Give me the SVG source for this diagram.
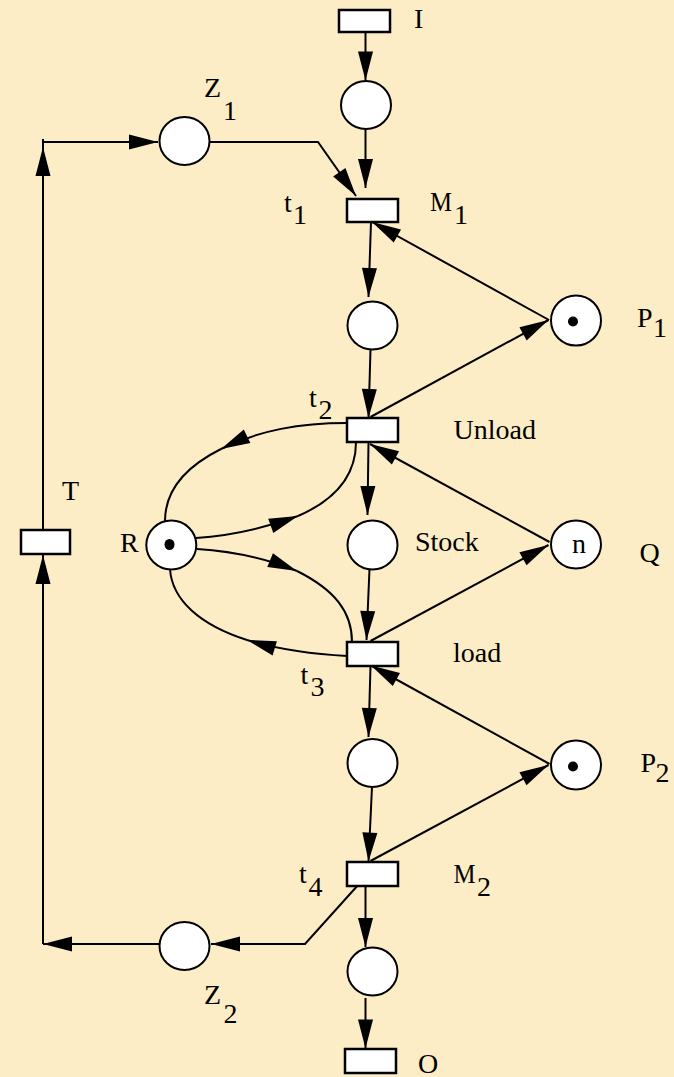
<svg xmlns="http://www.w3.org/2000/svg" width="674" height="1077" viewBox="0 0 674 1077">
<style>
.pl{fill:#fff;stroke:#000;stroke-width:2}
.tr{fill:#fff;stroke:#000;stroke-width:2.5}
.tk{fill:#000}
.c{fill:none;stroke:#000;stroke-width:2}
.ca{fill:none;stroke:#000;stroke-width:2;marker-end:url(#arr)}
text{font-size:28px;fill:#000}
</style>
<defs>
<marker id="arr" markerUnits="userSpaceOnUse" markerWidth="32" markerHeight="18" refX="29" refY="8" orient="auto" overflow="visible">
<path d="M0,0.5 L29,8 L0,15.5 z" fill="#000"/>
</marker>
</defs>
<rect x="0" y="0" width="674" height="1077" fill="#FDEDC6"/>
<g id="connectors">
<path class="ca" d="M365.5,32 L365.5,80.5"/>
<path class="ca" d="M365.5,129 L365.5,188"/>
<path class="ca" d="M210,142 L318,142 L356,196"/>
<path class="ca" d="M43,530 L43,147"/>
<path class="c" d="M43,139 L43,150"/>
<path class="ca" d="M43,142 L158,142"/>
<path class="ca" d="M371,222 L368.5,297"/>
<path class="ca" d="M549,320 L372,222"/>
<path class="ca" d="M370.5,349.5 L368.5,418"/>
<path class="ca" d="M370.5,417 L548.5,320"/>
<path class="ca" d="M347,423 C300,423 260,430 221,449"/>
<path class="c" d="M221,449 C185,467 165,490 165,521"/>
<path class="ca" d="M196,538 C230,536 265,528 298,516"/>
<path class="c" d="M298,516 C335,500 356,475 356,442"/>
<path class="ca" d="M368.5,442 L367.5,515"/>
<path class="ca" d="M549.5,542 L370,444"/>
<path class="ca" d="M369.5,569 L366.5,640"/>
<path class="ca" d="M370.5,641 L548.5,545"/>
<path class="ca" d="M197,549 C230,551 265,558 297,571"/>
<path class="c" d="M297,571 C335,590 352,612 352,642"/>
<path class="ca" d="M347,656 C310,654 280,650 247,640"/>
<path class="c" d="M247,640 C200,625 172,600 170,569"/>
<path class="ca" d="M370.5,666 L368.5,737"/>
<path class="ca" d="M549.5,764 L371,665.5"/>
<path class="ca" d="M372,787 L368.5,861.5"/>
<path class="ca" d="M370.5,861 L548.5,765"/>
<path class="ca" d="M359,884 L305,944 L211,944"/>
<path class="ca" d="M159,944 L43,944"/>
<path class="ca" d="M43,944 L43,555"/>
<path class="ca" d="M365.5,886 L365.5,947"/>
<path class="ca" d="M365.5,998 L365.5,1048.5"/>
</g>
<g font-family="'Liberation Serif', 'Times New Roman', serif">
<g id="I"><rect class="tr" x="339" y="10" width="51" height="22"/><text x="414" y="28">I</text></g>
<g id="p_in"><ellipse class="pl" cx="366" cy="105" rx="25" ry="24"/></g>
<g id="Z1"><ellipse class="pl" cx="184.5" cy="141" rx="25" ry="24"/><text x="204" y="97">Z</text><text x="223" y="120">1</text></g>
<g id="t1"><rect class="tr" x="347" y="199" width="51" height="23"/><text x="284" y="211.5">t</text><text x="293" y="223.5">1</text><text x="430" y="211" textLength="22" lengthAdjust="spacingAndGlyphs">M</text><text x="454" y="223.5">1</text></g>
<g id="p_m1"><ellipse class="pl" cx="372.5" cy="325.5" rx="25" ry="24"/></g>
<g id="P1"><ellipse class="pl" cx="576" cy="320.5" rx="25" ry="25"/><circle class="tk" cx="573" cy="321.5" r="5"/><text x="637" y="327">P</text><text x="653" y="337">1</text></g>
<g id="t2"><rect class="tr" x="347" y="418" width="51" height="24"/><text x="309" y="406.5">t</text><text x="318.5" y="418.5">2</text><text x="453.5" y="439">Unload</text></g>
<g id="T"><rect class="tr" x="21" y="530" width="49" height="24"/><text x="62" y="500">T</text></g>
<g id="R"><ellipse class="pl" cx="171.3" cy="545" rx="25" ry="24.5"/><ellipse class="tk" cx="169.5" cy="544.5" rx="5" ry="5.5"/><text x="120" y="552">R</text></g>
<g id="Stock"><ellipse class="pl" cx="372.5" cy="545" rx="25" ry="24.5"/><text x="415" y="551">Stock</text></g>
<g id="Q"><ellipse class="pl" cx="576" cy="544.5" rx="25" ry="24"/><text x="579" y="552.5" text-anchor="middle">n</text><text x="639.5" y="562">Q</text></g>
<g id="t3"><rect class="tr" x="347" y="642" width="51" height="24"/><text x="300.5" y="683.5">t</text><text x="310.5" y="696">3</text><text x="453" y="661.5">load</text></g>
<g id="p_load"><ellipse class="pl" cx="372.5" cy="763" rx="25" ry="24"/></g>
<g id="P2"><ellipse class="pl" cx="576" cy="765" rx="25" ry="24.5"/><circle class="tk" cx="573" cy="766.5" r="5"/><text x="640.5" y="771.5">P</text><text x="655.5" y="781.5">2</text></g>
<g id="t4"><rect class="tr" x="347" y="862" width="51" height="24"/><text x="299" y="882.5">t</text><text x="308.5" y="895.5">4</text><text x="453.5" y="883" textLength="22" lengthAdjust="spacingAndGlyphs">M</text><text x="477" y="895.5">2</text></g>
<g id="Z2"><ellipse class="pl" cx="184.5" cy="946" rx="25" ry="24"/><text x="204" y="1004">Z</text><text x="223.5" y="1023">2</text></g>
<g id="p_out"><ellipse class="pl" cx="372.5" cy="971.5" rx="25" ry="24"/></g>
<g id="O"><rect class="tr" x="345" y="1049" width="51" height="24"/><text x="418" y="1073">O</text></g>
</g>
</svg>
